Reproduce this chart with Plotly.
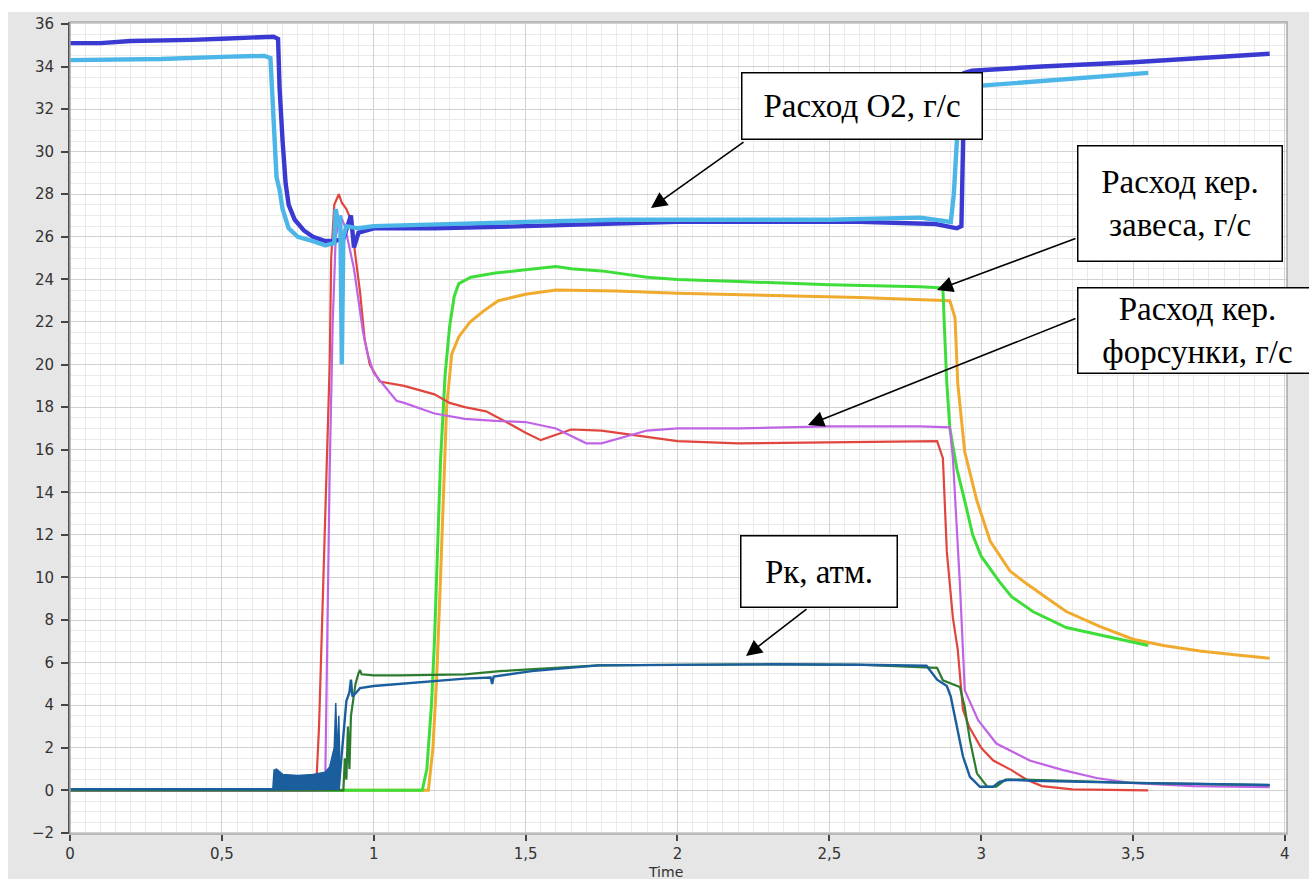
import plotly.graph_objects as go

# ---------------- data ----------------
o2_dark_t = [0, 0.1, 0.2, 0.3, 0.4, 0.5, 0.6, 0.67, 0.685, 0.69, 0.70, 0.71, 0.72, 0.74, 0.77, 0.80,
             0.84, 0.87, 0.90, 0.925, 0.935, 0.95, 1.0, 1.2, 1.5, 1.8, 2.0, 2.3, 2.6, 2.85, 2.92,
             2.935, 2.945, 2.97, 3.2, 3.5, 3.75, 3.95]
o2_dark_v = [35.1, 35.1, 35.2, 35.2, 35.25, 35.3, 35.35, 35.4, 35.3, 33.0, 30.5, 28.5, 27.5, 26.8,
             26.3, 26.0, 25.8, 25.8, 25.9, 27.0, 25.5, 26.2, 26.4, 26.4, 26.5, 26.6, 26.7, 26.7, 26.7,
             26.6, 26.4, 26.5, 33.7, 33.8, 34.0, 34.2, 34.4, 34.6]

o2_light_t = [0, 0.3, 0.5, 0.64, 0.66, 0.67, 0.68, 0.69, 0.70, 0.72, 0.75, 0.80, 0.84, 0.87, 0.875,
              0.885, 0.89, 0.895, 0.90, 0.91, 0.95, 1.0, 1.2, 1.5, 1.8, 2.0, 2.5, 2.8, 2.9, 2.91,
              2.92, 2.93, 3.0, 3.2, 3.4, 3.55]
o2_light_v = [34.3, 34.35, 34.45, 34.5, 34.4, 31.0, 28.8, 28.2, 27.3, 26.4, 26.0, 25.8, 25.6, 25.7,
              27.3, 26.5, 27.0, 20.0, 26.0, 26.5, 26.4, 26.5, 26.6, 26.7, 26.8, 26.8, 26.8, 26.9,
              26.7, 28.0, 31.0, 33.0, 33.1, 33.3, 33.5, 33.7]

red_t = [0, 0.81, 0.82, 0.83, 0.845, 0.855, 0.86, 0.87, 0.885, 0.895, 0.91, 0.925, 0.938, 0.955,
         0.97, 0.987, 1.02, 1.1, 1.2, 1.25, 1.3, 1.37, 1.45, 1.5, 1.55, 1.6, 1.65, 1.75, 1.85, 2.0,
         2.2, 2.5, 2.855, 2.874, 2.887, 2.907, 2.923, 2.94, 2.96, 3.0, 3.04, 3.1, 3.15, 3.2, 3.3, 3.55]
red_v = [0, 0, 3, 8, 15, 20, 25, 27.5, 28.0, 27.6, 27.3, 26.8, 25.3, 23.4, 21.2, 20.0, 19.2, 19.0,
         18.6, 18.2, 18.0, 17.8, 17.2, 16.8, 16.45, 16.7, 16.95, 16.9, 16.7, 16.4, 16.3, 16.35, 16.4,
         15.6, 11.2, 8.1, 6.6, 3.8, 3.0, 2.0, 1.4, 0.95, 0.5, 0.2, 0.05, 0.0]

violet_t = [0, 0.84, 0.845, 0.855, 0.865, 0.875, 0.89, 0.905, 0.92, 0.935, 0.95, 0.965, 0.98, 1.0,
            1.075, 1.1, 1.2, 1.3, 1.4, 1.5, 1.6, 1.7, 1.75, 1.8, 1.9, 2.0, 2.2, 2.5, 2.8, 2.897,
            2.907, 2.93, 2.94, 2.946, 2.99, 3.05, 3.16, 3.27, 3.38, 3.49, 3.7, 3.95]
violet_v = [0, 0, 5, 15, 22, 26, 27.0, 26.5, 25.5, 24.5, 23.0, 21.5, 20.5, 19.6, 18.3, 18.2, 17.7,
            17.45, 17.35, 17.3, 17.0, 16.3, 16.3, 16.5, 16.9, 17.0, 17.0, 17.1, 17.1, 17.05, 15.6,
            9.7, 6.6, 4.7, 3.3, 2.2, 1.4, 0.95, 0.58, 0.35, 0.2, 0.15]

green_t = [0, 1.16, 1.175, 1.19, 1.2, 1.21, 1.22, 1.235, 1.25, 1.265, 1.28, 1.32, 1.4, 1.5, 1.6,
           1.65, 1.75, 1.9, 2.0, 2.2, 2.5, 2.8, 2.874, 2.88, 2.887, 2.897, 2.92, 2.946, 2.972, 3.0,
           3.06, 3.1, 3.17, 3.28, 3.39, 3.5, 3.55]
green_v = [0, 0, 1.0, 4.0, 7.0, 11.0, 15.5, 19.5, 21.8, 23.2, 23.8, 24.1, 24.3, 24.45, 24.6, 24.5,
           24.4, 24.1, 24.0, 23.9, 23.75, 23.65, 23.6, 21.4, 19.1, 17.0, 15.1, 13.6, 12.0, 11.0,
           9.8, 9.1, 8.4, 7.65, 7.3, 6.95, 6.8]

orange_t = [0, 1.18, 1.195, 1.207, 1.22, 1.23, 1.24, 1.257, 1.28, 1.317, 1.36, 1.41, 1.5, 1.6, 1.8,
            2.0, 2.3, 2.6, 2.897, 2.914, 2.923, 2.946, 2.986, 3.03, 3.095, 3.15, 3.22, 3.28, 3.39,
            3.5, 3.6, 3.72, 3.85, 3.95]
orange_v = [0, 0, 2.0, 5.2, 10.0, 14.5, 18.0, 20.5, 21.3, 22.0, 22.5, 23.0, 23.3, 23.5, 23.45, 23.35,
            23.25, 23.15, 23.0, 22.2, 19.1, 15.9, 13.6, 11.7, 10.3, 9.7, 9.0, 8.4, 7.7, 7.1, 6.8,
            6.55, 6.35, 6.2]

pk_blue_t = [0, 0.668, 0.885, 0.889, 0.9, 0.91, 0.92, 0.925, 0.93, 0.955, 1.0, 1.086, 1.2, 1.3,
             1.385, 1.39, 1.395, 1.52, 1.74, 2.0, 2.3, 2.6, 2.82, 2.855, 2.887, 2.9, 2.92, 2.94,
             2.963, 2.996, 3.04, 3.06, 3.09, 3.17, 3.5, 3.95]
pk_blue_v = [0.05, 0.05, 0.1, 0.8, 2.5, 4.2, 4.6, 5.2, 4.4, 4.8, 4.9, 5.0, 5.1, 5.25, 5.3, 5.0,
             5.35, 5.6, 5.87, 5.9, 5.92, 5.9, 5.85, 5.2, 4.9, 4.4, 3.0, 1.6, 0.63, 0.17, 0.17, 0.4,
             0.5, 0.45, 0.35, 0.25]

# upper envelope of the noisy Pk band during ignition
pk_band_t = [0.668, 0.672, 0.68, 0.69, 0.70, 0.75, 0.80, 0.84, 0.855, 0.87, 0.875, 0.88, 0.885, 0.889]
pk_band_hi = [0.1, 0.95, 1.0, 0.85, 0.75, 0.7, 0.75, 0.85, 1.1, 2.0, 4.1, 1.5, 3.5, 0.8]
pk_band_lo = [0.05, 0.05, 0.05, 0.05, 0.05, 0.05, 0.05, 0.05, 0.05, 0.05, 0.05, 0.05, 0.05, 0.05]

pk_green_t = [0, 0.9, 0.905, 0.91, 0.915, 0.92, 0.925, 0.93, 0.94, 0.95, 0.955, 0.96, 1.0, 1.086,
              1.3, 1.415, 1.74, 2.0, 2.3, 2.6, 2.855, 2.874, 2.93, 2.946, 2.963, 2.986, 3.02,
              3.05, 3.08, 3.14, 3.5, 3.95]
pk_green_v = [0, 0, 1.5, 0.5, 3.0, 1.0, 3.5, 4.0, 5.0, 5.5, 5.65, 5.45, 5.4, 5.4, 5.45, 5.6, 5.87,
              5.9, 5.92, 5.9, 5.75, 5.17, 4.85, 3.9, 2.36, 0.8, 0.17, 0.17, 0.5, 0.5, 0.35, 0.25]

y_ticks = list(range(-2, 37, 2))
x_ticks = [0, 0.5, 1, 1.5, 2, 2.5, 3, 3.5, 4]

labels = ["Расход O2, г/с", "Расход кер.<br>завеса, г/с", "Расход кер.<br>форсунки, г/с", "Рк, атм."]

# ---------------- geometry ----------------
W, H = 1309, 879
ML, MR, MT, MB = 70, 22, 22, 45
X0, X1 = 0.0, 4.007
Y0, Y1 = -2.05, 36.09
PW, PH = W - ML - MR, H - MT - MB


def px2x(px):
    return X0 + (px - ML) / PW * (X1 - X0)


def py2y(py):
    return Y1 - (py - MT) / PH * (Y1 - Y0)


fig = go.Figure()

def line(t, v, color, width):
    fig.add_trace(go.Scatter(x=t, y=v, mode="lines", line=dict(color=color, width=width),
                             showlegend=False, hoverinfo="skip"))

line(orange_t, orange_v, "#f0aa2e", 3.0)
line(green_t, green_v, "#3ede3a", 3.0)
line(red_t, red_v, "#e0463e", 2.2)
line(violet_t, violet_v, "#c064e6", 2.2)
line(pk_green_t, pk_green_v, "#2c7c30", 2.2)
# noisy band
fig.add_trace(go.Scatter(x=pk_band_t, y=pk_band_lo, mode="lines", line=dict(color="#1a5e9e", width=1),
                         showlegend=False, hoverinfo="skip"))
fig.add_trace(go.Scatter(x=pk_band_t, y=pk_band_hi, mode="lines", line=dict(color="#1a5e9e", width=1.5),
                         fill="tonexty", fillcolor="#1a5e9e", showlegend=False, hoverinfo="skip"))
line(pk_blue_t, pk_blue_v, "#1a5e9e", 2.4)
line(o2_dark_t, o2_dark_v, "#3a3ad2", 4.4)
line(o2_light_t, o2_light_v, "#4db6e8", 4.4)

# ---------------- annotations ----------------
font_box = dict(family="Liberation Serif", size=33, color="black")

boxes = [
    # label, left, right, top, bottom, arrow tail (px), arrow tip (px)
    (labels[0], 741, 983, 72, 140, (745, 141), (651, 208)),
    (labels[1], 1077, 1283, 145, 262, (1077, 238), (937, 290)),
    (labels[2], 1077, 1318, 287, 374, (1077, 318), (808, 425)),
    (labels[3], 740, 898, 535, 608, (808, 608), (746, 656)),
]
for text, l, r, t, b, tail, tip in boxes:
    fig.add_annotation(x=px2x(tip[0]), y=py2y(tip[1]), ax=px2x(tail[0]), ay=py2y(tail[1]),
                       axref="x", ayref="y", xref="x", yref="y", text="", showarrow=True,
                       arrowhead=2, arrowsize=2.0, arrowwidth=1.6, arrowcolor="black",
                       standoff=0, startstandoff=0)
    fig.add_annotation(x=px2x((l + r) / 2), y=py2y((t + b) / 2), xref="x", yref="y",
                       text=text, showarrow=False, font=font_box, align="center",
                       bgcolor="white", bordercolor="black", borderwidth=1.5, borderpad=0,
                       width=r - l - 3, height=b - t - 3, xanchor="center", yanchor="middle")

fig.add_annotation(x=px2x(665), y=-(872 - (H - MB)) / PH, xref="x", yref="paper", text="Time",
                   showarrow=False, font=dict(family="DejaVu Sans", size=14, color="#303030"),
                   yanchor="middle")

# white strips around the grey frame
fig.add_shape(type="rect", xref="paper", yref="paper", x0=-0.1, x1=(8 - ML) / PW, y0=-0.2, y1=1.2,
              fillcolor="white", line=dict(width=0), layer="below")
fig.add_shape(type="rect", xref="paper", yref="paper", x0=-0.1, x1=1.1, y0=(H - MB - 12) / PH, y1=1.2,
              fillcolor="white", line=dict(width=0), layer="below")
# plot frame
fig.add_shape(type="rect", xref="paper", yref="paper", x0=0, x1=1, y0=0, y1=1,
              line=dict(color="#a8a8a8", width=1.5), layer="above")

fig.update_layout(
    width=W, height=H, margin=dict(l=ML, r=MR, t=MT, b=MB),
    paper_bgcolor="#e6e6e6", plot_bgcolor="white",
    separators=", ", showlegend=False,
    font=dict(family="DejaVu Sans", size=15, color="#333333"),
)
fig.update_xaxes(range=[X0, X1], tickvals=x_ticks, ticks="outside", ticklen=6, tickcolor="#444",
                 tickwidth=1.5, showgrid=True, gridcolor="#d2d2d2", gridwidth=1,
                 minor=dict(dtick=0.05, tick0=0, showgrid=True, gridcolor="#eaeaea", gridwidth=1),
                 zeroline=False, showline=False, tickfont=dict(size=15, color="#333"))
fig.update_yaxes(range=[Y0, Y1], tickvals=y_ticks, ticks="outside", ticklen=7, tickcolor="#444",
                 tickwidth=1.5, showgrid=True, gridcolor="#d2d2d2", gridwidth=1,
                 minor=dict(dtick=0.5, tick0=0, showgrid=True, gridcolor="#eaeaea", gridwidth=1),
                 zeroline=False, showline=True, linecolor="#505050", linewidth=2,
                 ticklabelstandoff=4, tickfont=dict(size=15, color="#333"))

fig.write_html("out.html")
